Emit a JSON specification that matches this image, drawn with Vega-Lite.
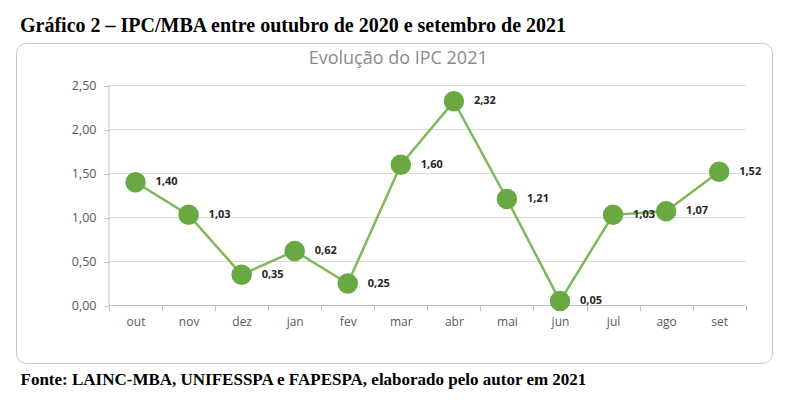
{
  "$schema": "https://vega.github.io/schema/vega-lite/v6.json",
  "width": 756,
  "height": 320,
  "autosize": {"type": "none"},
  "padding": {"left": 16, "top": 43, "right": 35, "bottom": 43},
  "background": "white",
  "title": {
    "text": "Gráfico 2 – IPC/MBA entre outubro de 2020 e setembro de 2021",
    "anchor": "start",
    "frame": "group",
    "font": "Liberation Serif",
    "fontSize": 20,
    "fontWeight": "bold",
    "color": "black",
    "baseline": "alphabetic",
    "offset": 11,
    "dx": 4,
    "dy": 20
  },
  "config": {
    "view": {"stroke": "#c9c9c9", "strokeWidth": 1, "cornerRadius": 10},
    "locale": {"number": {"decimal": ",", "thousands": ".", "grouping": [3], "currency": ["R$", ""]}}
  },
  "datasets": {
    "ipc": [
      {"mes": "out", "v": 1.40},
      {"mes": "nov", "v": 1.03},
      {"mes": "dez", "v": 0.35},
      {"mes": "jan", "v": 0.62},
      {"mes": "fev", "v": 0.25},
      {"mes": "mar", "v": 1.60},
      {"mes": "abr", "v": 2.32},
      {"mes": "mai", "v": 1.21},
      {"mes": "jun", "v": 0.05},
      {"mes": "jul", "v": 1.03},
      {"mes": "ago", "v": 1.07},
      {"mes": "set", "v": 1.52}
    ],
    "grid": [{"g": 0.5}, {"g": 1.0}, {"g": 1.5}, {"g": 2.0}, {"g": 2.5}]
  },
  "layer": [
    {
      "data": {"name": "grid"},
      "mark": {"type": "rule", "color": "#d9d9d9", "strokeWidth": 1},
      "encoding": {
        "y": {"field": "g", "type": "quantitative", "scale": {"domain": [-0.6534, 2.983], "nice": false, "zero": false},
          "axis": {"title": null, "values": [0, 0.5, 1, 1.5, 2, 2.5], "labelExpr": "replace(format(datum.value, '.2f'), '.', ',')", "offset": -93, "domain": false, "grid": false, "ticks": true, "tickColor": "#bfbfbf", "tickSize": 5, "labelColor": "#595959", "labelFont": "Open Sans", "labelFontSize": 12.5, "labelPadding": 8}},
        "x": {"datum": 0, "type": "quantitative", "scale": {"domain": [-1.7528, 12.4952], "nice": false, "zero": false}, "axis": null},
        "x2": {"datum": 12}
      }
    },
    {
      "data": {"values": [{}]},
      "mark": {"type": "rule", "color": "#bfbfbf", "strokeWidth": 1},
      "encoding": {
        "y": {"datum": 0, "type": "quantitative"},
        "x": {"datum": 0, "type": "quantitative", "scale": {"domain": [-1.7528, 12.4952], "nice": false, "zero": false}, "axis": null},
        "x2": {"datum": 12}
      }
    },
    {
      "data": {"values": [{}]},
      "mark": {"type": "rule", "color": "#bfbfbf", "strokeWidth": 1},
      "encoding": {
        "y": {"datum": 0, "type": "quantitative"},
        "y2": {"datum": 2.5},
        "x": {"datum": 0, "type": "quantitative", "scale": {"domain": [-1.7528, 12.4952], "nice": false, "zero": false}, "axis": null}
      }
    },
    {
      "data": {"values": [{}]},
      "mark": {"type": "text", "align": "center", "baseline": "middle", "font": "Open Sans", "fontSize": 18, "color": "#8a8a8a"},
      "encoding": {
        "x": {"datum": 5.45, "type": "quantitative", "scale": {"domain": [-1.7528, 12.4952], "nice": false, "zero": false}, "axis": null},
        "y": {"datum": 2.8, "type": "quantitative"},
        "text": {"value": "Evolução do IPC 2021"}
      }
    },
    {
      "data": {"name": "ipc"},
      "encoding": {
        "x": {"field": "mes", "type": "nominal", "sort": null,
          "scale": {"type": "band", "paddingInner": 0, "paddingOuter": 0, "range": [93, 729.7]},
          "axis": {"title": "Fonte: LAINC-MBA, UNIFESSPA e FAPESPA, elaborado pelo autor em 2021", "titleFont": "Liberation Serif", "titleFontSize": 17, "titleFontWeight": "bold", "titleColor": "black", "titleX": 4, "titleY": 78.5, "titleAlign": "left", "titleBaseline": "alphabetic", "titleAnchor": "start", "offset": -57.5, "domain": false, "grid": false, "tickBand": "extent", "tickColor": "#bfbfbf", "tickSize": 5, "labelColor": "#595959", "labelFont": "Open Sans", "labelFontSize": 12, "labelPadding": 6, "labelAngle": 0}},
        "y": {"field": "v", "type": "quantitative"}
      },
      "layer": [
        {"mark": {"type": "line", "color": "#80b85a", "strokeWidth": 2.5}},
        {"mark": {"type": "circle", "size": 420, "opacity": 1, "color": "#6aa842"}},
        {"mark": {"type": "text", "align": "left", "baseline": "middle", "dx": 20, "font": "Open Sans", "fontWeight": "bold", "fontSize": 11, "color": "#262626"},
          "encoding": {"text": {"field": "v", "type": "quantitative", "format": ".2f"}}}
      ]
    }
  ],
  "resolve": {"scale": {"x": "independent"}}
}
